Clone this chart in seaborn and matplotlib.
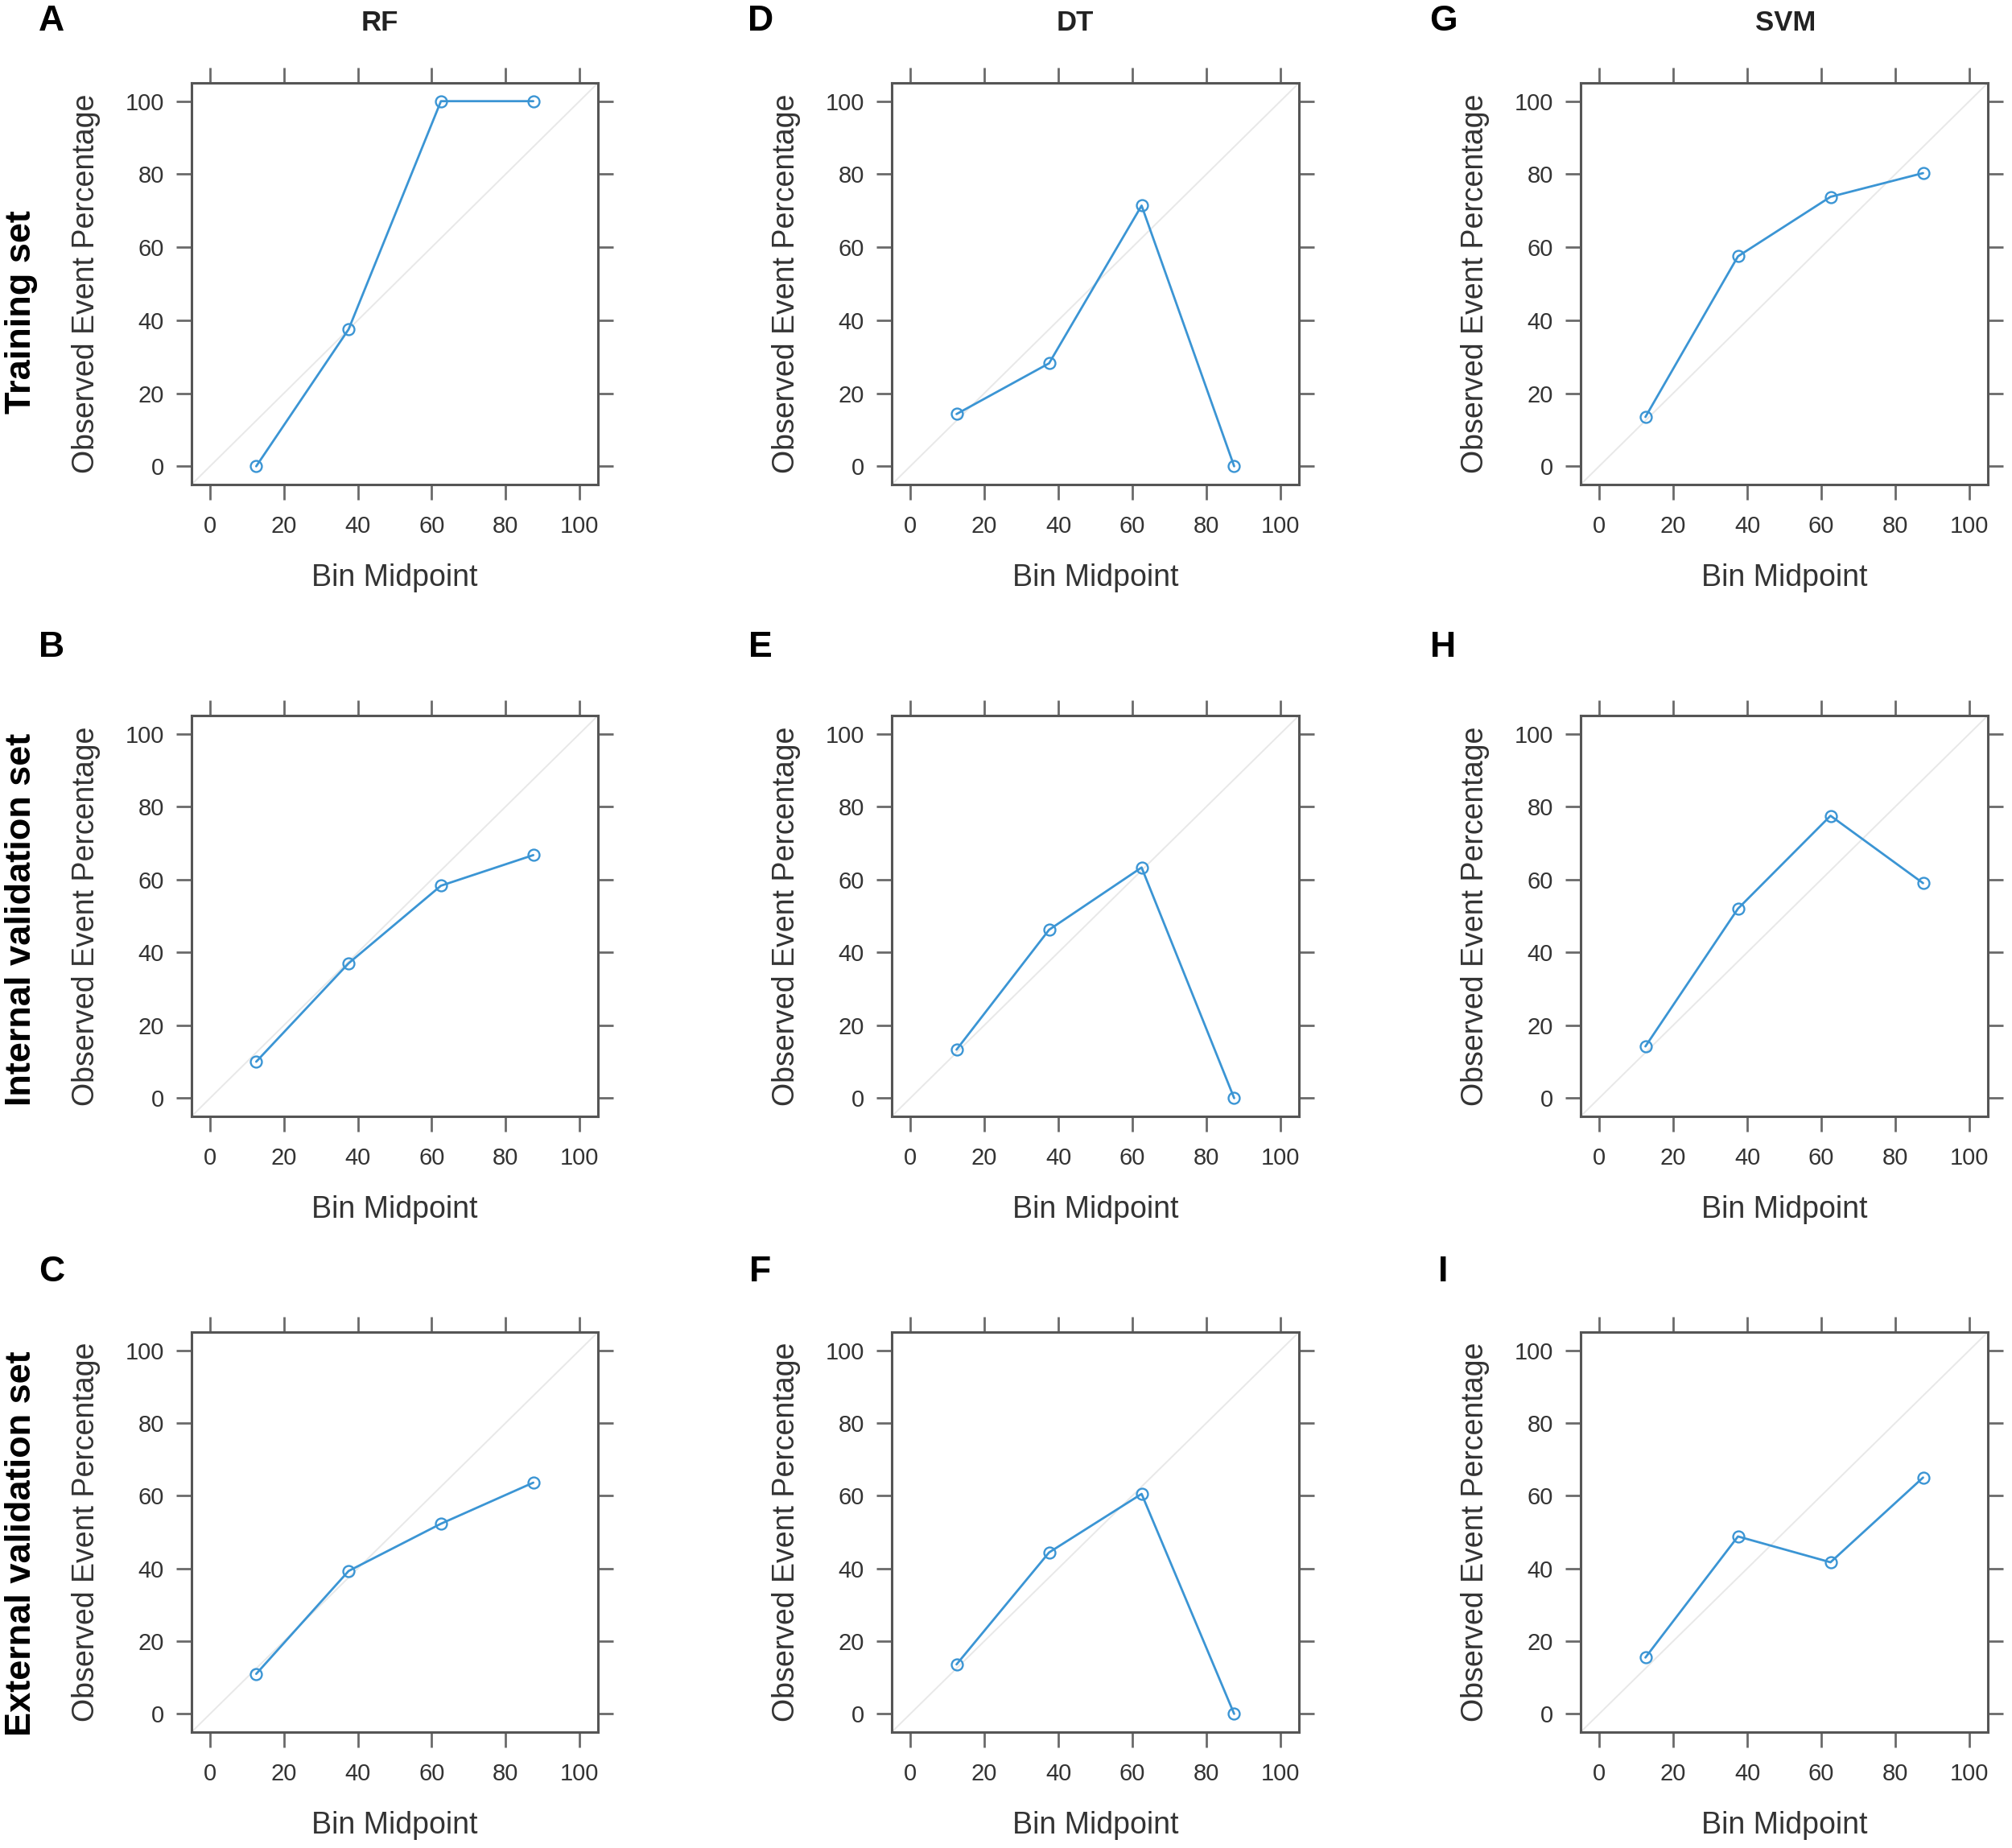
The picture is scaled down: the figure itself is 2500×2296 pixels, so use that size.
import numpy as np
import pandas as pd
import matplotlib
matplotlib.use("Agg")
import matplotlib.pyplot as plt
import seaborn as sns

# ---- data ----
bin_midpoints = [12.5, 37.5, 62.5, 87.5]
models = ["RF", "DT", "SVM"]
sets = ["Training set", "Internal validation set", "External validation set"]
panel_letters = [["A", "D", "G"], ["B", "E", "H"], ["C", "F", "I"]]

rf_train = [0.0, 37.5, 100.0, 100.0]
dt_train = [14.3, 28.2, 71.4, 0.0]
svm_train = [13.5, 57.5, 73.8, 80.3]
rf_internal = [10.0, 37.0, 58.3, 66.7]
dt_internal = [13.3, 46.2, 63.3, 0.0]
svm_internal = [14.2, 52.0, 77.5, 59.0]
rf_external = [11.0, 39.3, 52.3, 63.6]
dt_external = [13.6, 44.4, 60.5, 0.0]
svm_external = [15.5, 48.8, 41.7, 65.0]

values = [[rf_train, dt_train, svm_train],
          [rf_internal, dt_internal, svm_internal],
          [rf_external, dt_external, svm_external]]
tick_values = [0, 20, 40, 60, 80, 100]

# ---- style ----
sns.set_style("white")
plt.rcParams['font.family'] = ['Liberation Sans', 'DejaVu Sans']

W, H = 2500, 2296
fig = plt.figure(figsize=(W / 100, H / 100), dpi=100)

col_lr = [(238, 743), (1108, 1614), (1964, 2470)]
row_tb = [(103, 602), (889, 1387), (1655, 2152)]

line_col = "#3b95d4"
frame_col = "#555555"
tick_col = "#6a6a6a"

for r in range(3):
    for c in range(3):
        l, rr = col_lr[c]
        t, b = row_tb[r]
        ax = fig.add_axes([l / W, 1 - b / H, (rr - l) / W, (b - t) / H])
        ax.plot([-5, 105], [-5, 105], color="#e8e8e8", lw=1.4, zorder=1)
        df = pd.DataFrame({"Bin Midpoint": bin_midpoints,
                           "Observed Event Percentage": values[r][c]})
        sns.lineplot(data=df, x="Bin Midpoint", y="Observed Event Percentage",
                     ax=ax, color=line_col, lw=2.0, marker="o", markersize=10,
                     markerfacecolor="none", markeredgecolor=line_col,
                     markeredgewidth=1.7, zorder=3)
        ax.set_xlim(-5, 105)
        ax.set_ylim(-5, 105)
        ax.set_xticks(tick_values)
        ax.set_yticks(tick_values)
        ax.tick_params(axis="both", which="both", direction="out", length=13.5,
                       width=2.0, color=tick_col, labelsize=21,
                       labelcolor="#333333", pad=11,
                       top=True, right=True, bottom=True, left=True,
                       labeltop=False, labelright=False)
        ax.tick_params(axis="x", pad=14)
        for s in ax.spines.values():
            s.set_color(frame_col)
            s.set_linewidth(2.2)
            s.set_visible(True)
        ax.set_xlabel("Bin Midpoint", fontsize=27, color="#333333", labelpad=23)
        ax.set_ylabel("Observed Event Percentage", fontsize=27, color="#333333",
                      labelpad=22)
        ax.set_facecolor("white")

# panel letters
letter_x = [64, 945, 1793]
letter_y = [27, 805, 1581]
for r in range(3):
    for c in range(3):
        fig.text(letter_x[c] / W, 1 - letter_y[r] / H, panel_letters[r][c],
                 fontsize=32, fontweight="bold", ha="center", va="center",
                 color="black")

# column titles
title_x = [472, 1336, 2219]
for c in range(3):
    fig.text(title_x[c] / W, 1 - 29 / H, models[c], fontsize=25,
             fontweight="bold", ha="center", va="center", color="#222222")

# row labels
row_y = [388, 1142, 1918]
for r in range(3):
    fig.text(27 / W, 1 - row_y[r] / H, sets[r], fontsize=32.5,
             fontweight="bold", ha="center", va="center", rotation=90,
             color="black")

fig.savefig("out.png", dpi=100, facecolor="white")
